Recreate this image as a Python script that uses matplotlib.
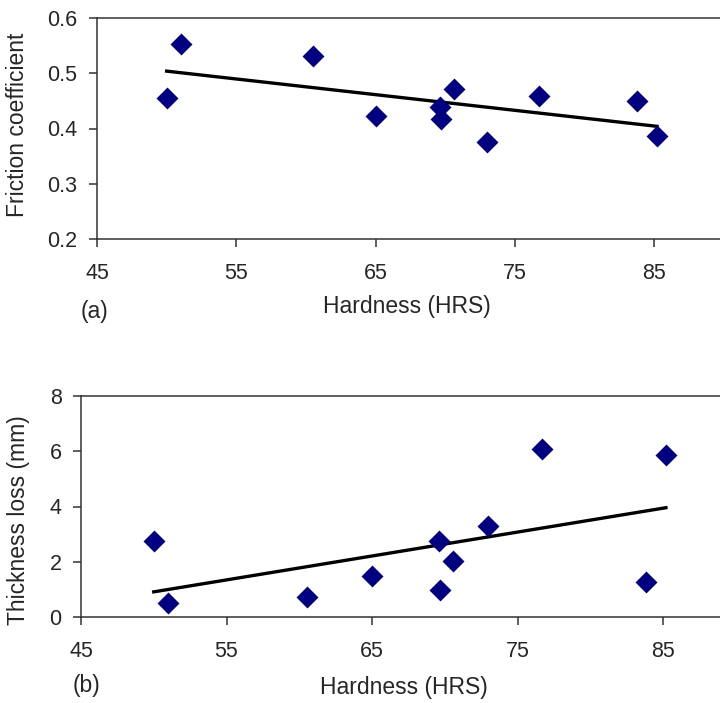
import numpy as np
import matplotlib.pyplot as plt

plt.rcParams['font.family'] = ['Liberation Sans', 'DejaVu Sans']

# hardness (HRS) of the samples
hardness = [50.0, 51.0, 60.5, 65.0, 69.6, 69.7, 70.6, 73.0, 76.7, 83.8, 85.2]
# (a) friction coefficient
friction = [0.455, 0.553, 0.531, 0.422, 0.439, 0.417, 0.472, 0.376, 0.459, 0.450, 0.386]
# (b) thickness loss (mm)
thickness = [2.75, 0.52, 0.74, 1.48, 2.75, 0.98, 2.03, 3.30, 6.09, 1.27, 5.85]

x_ticks = [45, 55, 65, 75, 85]
fric_ticks = [0.2, 0.3, 0.4, 0.5, 0.6]
thick_ticks = [0, 2, 4, 6, 8]

text_col = '#262626'
mark_col = '#000080'

fig = plt.figure(figsize=(7.2, 7.03), dpi=100)
W, H = 720, 703


def make_axes(left, top, width, height):
    return fig.add_axes([left / W, 1 - (top + height) / H, width / W, height / H])


def style(ax, ylim, yticks, yfmt):
    ax.set_xticks(x_ticks)
    ax.set_yticks(yticks)
    ax.set_xticklabels([str(t) for t in x_ticks])
    ax.set_yticklabels([yfmt.format(t) for t in yticks])
    ax.set_xlim(45, 90)
    ax.set_ylim(*ylim)
    ax.spines['right'].set_visible(False)
    for s in ['left', 'top', 'bottom']:
        ax.spines[s].set_color('#333333')
        ax.spines[s].set_linewidth(1.1)
    ax.tick_params(direction='out', length=6, width=1.1, color='#333333',
                   labelsize=15.5, labelcolor=text_col)
    ax.tick_params(axis='x', pad=11)
    ax.tick_params(axis='y', pad=8)


def draw(ax, x, y):
    ax.scatter(x, y, marker='D', s=125, color=mark_col, zorder=3, linewidths=0)
    k, b = np.polyfit(x, y, 1)
    xs = np.array([min(x), max(x)])
    ax.plot(xs, k * xs + b, color='black', lw=2.4, zorder=2)


ax1 = make_axes(97, 18, 45 * 13.93, 221)
draw(ax1, hardness, friction)
style(ax1, (0.2, 0.6), fric_ticks, '{:.1f}')

ax2 = make_axes(81, 396, 45 * 14.55, 221)
draw(ax2, hardness, thickness)
style(ax2, (0, 8), thick_ticks, '{:g}')

fig.text(18 / W, 1 - 125 / H, 'Friction coefficient', rotation=90,
         ha='center', va='center', fontsize=16.5, color=text_col)
fig.text(407 / W, 1 - 313 / H, 'Hardness (HRS)', ha='center', va='baseline',
         fontsize=16.5, color=text_col)
fig.text(95 / W, 1 - 318 / H, '(a)', ha='center', va='baseline',
         fontsize=16.5, color=text_col)

fig.text(19 / W, 1 - 520 / H, 'Thickness loss (mm)', rotation=90,
         ha='center', va='center', fontsize=16.5, color=text_col)
fig.text(404 / W, 1 - 694 / H, 'Hardness (HRS)', ha='center', va='baseline',
         fontsize=16.5, color=text_col)
fig.text(86 / W, 1 - 692 / H, '(b)', ha='center', va='baseline',
         fontsize=16.5, color=text_col)

fig.savefig('out.png', dpi=100)
